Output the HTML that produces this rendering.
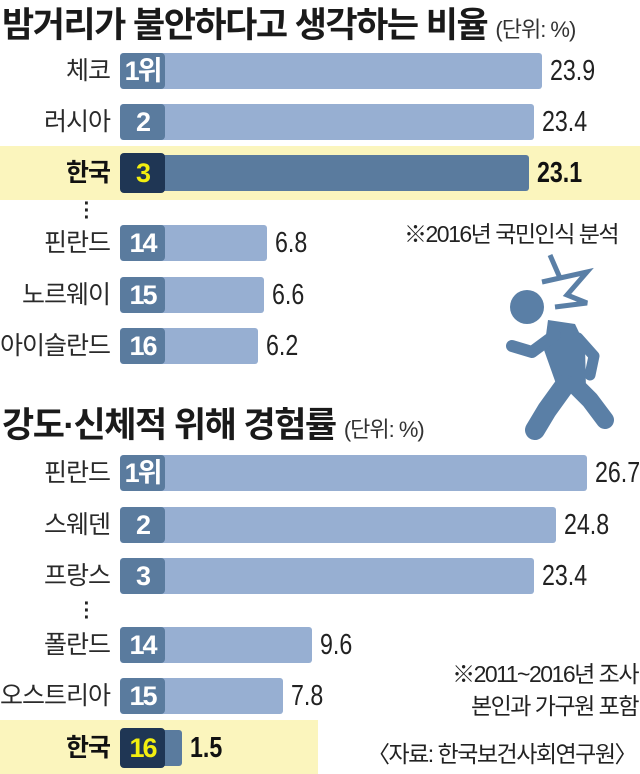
<!DOCTYPE html>
<html><head><meta charset="utf-8">
<style>
html,body{margin:0;padding:0;}
body{width:640px;height:774px;background:#fff;position:relative;overflow:hidden;font-family:"Liberation Sans","Noto Sans CJK KR",sans-serif;}
.t{position:absolute;white-space:nowrap;}
.title{font-size:35px;font-weight:bold;color:#1a1a1a;letter-spacing:-1.5px;}
.unit{font-size:22px;color:#333;font-weight:normal;letter-spacing:-1px;}
.hl{position:absolute;background:#fbf5bd;}
.lab{position:absolute;right:530px;font-size:25px;color:#2a2a2a;text-align:right;letter-spacing:-1px;line-height:34px;white-space:nowrap;}
.bar{position:absolute;background:#97afd2;border-radius:3px;}
.badge{position:absolute;left:120px;width:45px;background:#5a7b9e;border-radius:4px;color:#fff;font-weight:bold;font-size:27px;text-align:center;letter-spacing:-2px;}
.val{position:absolute;font-size:29px;color:#222;line-height:34px;transform:scaleX(0.8);transform-origin:left;white-space:nowrap;}
.dots{position:absolute;font-size:20px;color:#222;line-height:7px;width:10px;text-align:center;font-weight:bold;}
.note{font-size:23px;color:#222;letter-spacing:-1.5px;}
</style></head><body>
<div class="t title" style="left:2px;top:-3px;">밤거리가 불안하다고 생각하는 비율 <span class="unit">(단위: %)</span></div>
<div class="hl" style="left:0;top:146px;width:640px;height:54px;"></div>
<div class="dots" style="left:82px;top:201px;">·<br>·<br>·</div>
<div class="t title" style="left:2px;top:397px;">강도·신체적 위해 경험률 <span class="unit">(단위: %)</span></div>
<div class="hl" style="left:0;top:720px;width:318px;height:54px;"></div>
<div class="dots" style="left:82px;top:601px;">·<br>·<br>·</div>
<div class="t note" style="left:404px;top:215px;">※2016년 국민인식 분석</div>
<div class="t note" style="right:2px;top:658px;text-align:right;line-height:32px;">※2011~2016년 조사<br>본인과 가구원 포함</div>
<div class="t note" style="right:4px;top:735px;">〈자료: 한국보건사회연구원〉</div>
<svg style="position:absolute;left:480px;top:240px;" width="160" height="210" viewBox="0 0 160 210">
<g fill="#5a7fa6" stroke="#5a7fa6">
<polyline points="70,15 80,38 62,42 107,32 87,55 107,63 75,67" fill="none" stroke-width="5" stroke-linejoin="miter"/>
<circle cx="47" cy="67" r="17" stroke="none"/>
<polygon points="68,80 95,84 105,105 106,150 80,155 64,110" stroke="none"/>
<polyline points="75,95 52,112 32,106" fill="none" stroke-width="12" stroke-linecap="round" stroke-linejoin="round"/>
<polyline points="98,98 114,116 110,135" fill="none" stroke-width="11" stroke-linecap="round" stroke-linejoin="round"/>
<polyline points="85,145 67,170 55,190" fill="none" stroke-width="20" stroke-linecap="round" stroke-linejoin="round"/>
<polyline points="95,145 110,160 125,180" fill="none" stroke-width="18" stroke-linecap="round" stroke-linejoin="round"/>
</g></svg>
<div id="c1"></div>
<div id="c2"></div>
<script>
const cats1 = ["체코","러시아","한국","핀란드","노르웨이","아이슬란드"];
const ranks1 = ["1위","2","3","14","15","16"];
const vals1 = [23.9,23.4,23.1,6.8,6.6,6.2];
const tops1 = [53,104,155,225,277,328];
const cats2 = ["핀란드","스웨덴","프랑스","폴란드","오스트리아","한국"];
const ranks2 = ["1위","2","3","14","15","16"];
const vals2 = [26.7,24.8,23.4,9.6,7.8,1.5];
const tops2 = [455,507,558,627,678,730];
function xs(v){return 158+16.05*v;}
function draw(id,cats,ranks,vals,tops){
  const root=document.getElementById(id);
  cats.forEach((c,i)=>{
    const k=c==="한국";
    const y=tops[i];
    const lab=document.createElement('div');
    lab.className='lab';
    
    
    lab.style.top=(y+1)+'px';
    if(k){lab.style.fontWeight='bold';lab.style.color='#111';}
    lab.textContent=c;root.appendChild(lab);
    const b=document.createElement('div');
    b.className='bar';
    
    
    const x1=xs(vals[i]);
    b.style.left='120px';b.style.top=y+'px';b.style.height='36px';
    b.style.width=(x1-120)+'px';
    if(k)b.style.background='#5a7b9e';
    root.appendChild(b);
    const r=document.createElement('div');
    r.className='badge';
    
    
    r.style.top=(k?y-2:y)+'px';r.style.height=(k?40:36)+'px';r.style.lineHeight=(k?40:36)+'px';
    if(k){r.style.background='#1f3654';r.style.color='#f2ee10';}
    r.textContent=ranks[i];root.appendChild(r);
    const v=document.createElement('div');
    v.className='val';
    
    
    v.style.left=(x1+8)+'px';v.style.top=(y+1)+'px';
    if(k){v.style.color='#111';v.style.fontWeight='bold';}
    v.textContent=vals[i].toFixed(1);root.appendChild(v);
  });
}
draw('c1',cats1,ranks1,vals1,tops1);
draw('c2',cats2,ranks2,vals2,tops2);
</script>
</body></html>
